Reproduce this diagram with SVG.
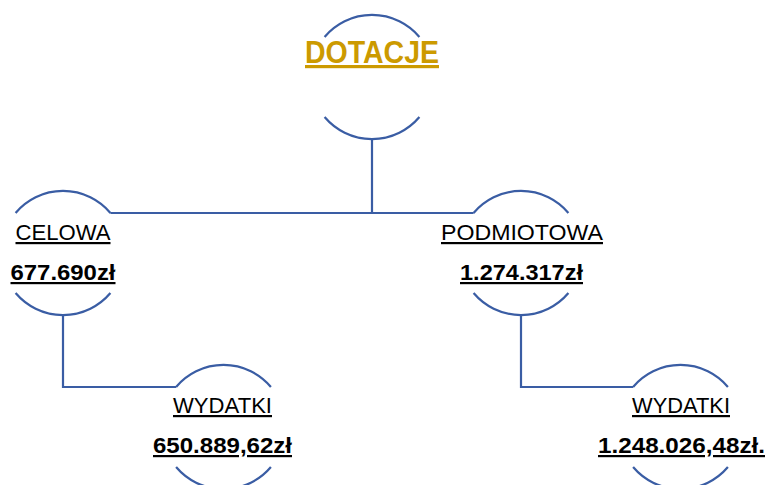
<svg xmlns="http://www.w3.org/2000/svg" width="766" height="485" viewBox="0 0 766 485">
<style>
.arc{fill:none;stroke:#3A5DA4;stroke-width:2.2}
.con{fill:none;stroke:#3A5DA4;stroke-width:2.2}
.lbl{font-family:"Liberation Sans",Arial,sans-serif;font-size:22px;fill:#000;text-decoration:underline;text-anchor:middle}
.val{font-family:"Liberation Sans",Arial,sans-serif;font-size:22px;font-weight:bold;fill:#000;text-decoration:underline;text-anchor:middle}
.title{font-family:"Liberation Sans",Arial,sans-serif;font-size:32px;font-weight:bold;fill:#CC9A00;text-decoration:underline;text-anchor:middle}
</style>
<rect width="766" height="485" fill="#fff"/>
<g id="connectors">
<path class="con" d="M372,139 V213 M110.4,213 H473.6"/>
<path class="con" d="M63,315 V387 H176.1"/>
<path class="con" d="M521,315 V387 H633.1"/>
</g>
<g id="dotacje">
<path class="arc" d="M324.6,37 A62,62 0 0 1 419.4,37"/>
<path class="arc" d="M324.6,117 A62,62 0 0 0 419.4,117"/>
<text class="title" x="372" y="63" textLength="134" lengthAdjust="spacingAndGlyphs">DOTACJE</text>
</g>
<g id="celowa">
<path class="arc" d="M15.6,213 A62,62 0 0 1 110.4,213"/>
<path class="arc" d="M15.6,293 A62,62 0 0 0 110.4,293"/>
<text class="lbl" x="63" y="240" textLength="95" lengthAdjust="spacingAndGlyphs">CELOWA</text>
<text class="val" x="63" y="280" textLength="105" lengthAdjust="spacingAndGlyphs">677.690zł</text>
</g>
<g id="podmiotowa">
<path class="arc" d="M473.6,213 A62,62 0 0 1 568.4,213"/>
<path class="arc" d="M473.6,293 A62,62 0 0 0 568.4,293"/>
<text class="lbl" x="522" y="240" textLength="162" lengthAdjust="spacingAndGlyphs">PODMIOTOWA</text>
<text class="val" x="521.5" y="280" textLength="123" lengthAdjust="spacingAndGlyphs">1.274.317zł</text>
</g>
<g id="wydatki-celowa">
<path class="arc" d="M176.1,387 A62,62 0 0 1 270.9,387"/>
<path class="arc" d="M176.1,467 A62,62 0 0 0 270.9,467"/>
<text class="lbl" x="222.5" y="413" textLength="99" lengthAdjust="spacingAndGlyphs">WYDATKI</text>
<text class="val" x="222.5" y="453" textLength="139" lengthAdjust="spacingAndGlyphs">650.889,62zł</text>
</g>
<g id="wydatki-podmiotowa">
<path class="arc" d="M633.1,387 A62,62 0 0 1 727.9,387"/>
<path class="arc" d="M633.1,467 A62,62 0 0 0 727.9,467"/>
<text class="lbl" x="681" y="413" textLength="98" lengthAdjust="spacingAndGlyphs">WYDATKI</text>
<text class="val" x="681.5" y="453" textLength="167" lengthAdjust="spacingAndGlyphs">1.248.026,48zł.</text>
</g>
</svg>
